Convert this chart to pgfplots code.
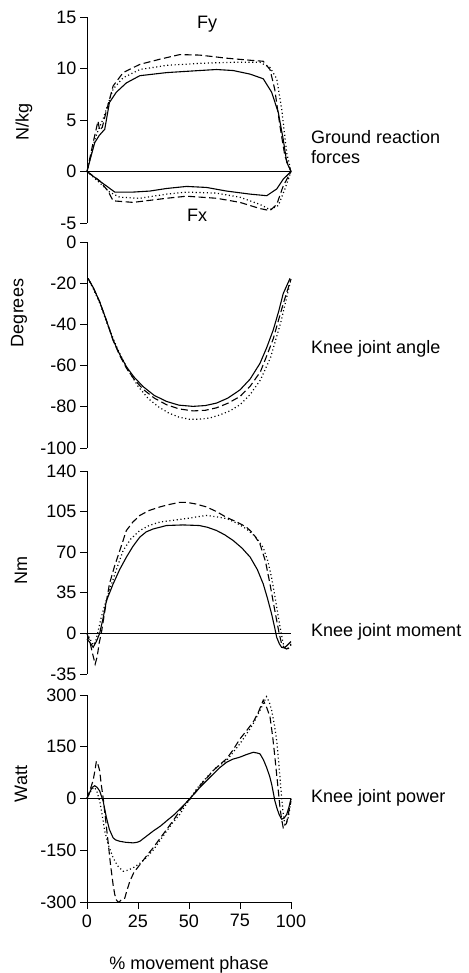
\documentclass[border=0pt]{standalone}
\usepackage{pgfplots}
\pgfplotsset{compat=1.18}
\usepackage{fontspec}
\setmainfont{Liberation Sans}
\newcommand{\lbl}{\fontsize{18}{20}\selectfont}
\pgfplotsset{
  panel/.style={
    scale only axis, width=204pt, xmin=0, xmax=100,
    axis y line*=left,
    tick align=outside, major tick length=7pt,
    tick label style={font=\lbl},
    /pgf/number format/assume math mode=true,
    axis line style={line width=0.9pt},
    every tick/.style={line width=0.9pt, black},
    clip=false,
  },
  noxaxis/.style={axis x line=none, xtick=\empty},
  s/.style={black, line width=1.1pt, solid},
  d/.style={black, line width=1.1pt, dash pattern=on 7pt off 3.5pt},
  o/.style={black, line width=1.2pt, dash pattern=on 1.1pt off 2.6pt},
  z/.style={black, line width=0.9pt},
}
\begin{document}
\begin{tikzpicture}[x=1pt,y=1pt]
\path[use as bounding box] (0,0) rectangle (468,973);
% ---------------- Panel 1: Ground reaction forces
\begin{axis}[panel, noxaxis, at={(87pt,750pt)}, anchor=south west, height=206pt,
  ymin=-5, ymax=15, ytick={-5,0,5,10,15}]
\addplot[z] coordinates {(0,0) (100,0)};
% Fy
\addplot[s] coordinates {(0,0) (2,1.5) (3.8,2.8) (6,3.5) (8.7,4.1) (11,6.7) (14.4,7.7) (19.3,8.6) (25.9,9.3) (39,9.6) (55,9.8) (63.5,9.9) (71.7,9.8) (80,9.45) (86.4,9.0) (90.5,7.7) (93.8,5.7) (96.2,3.1) (97.9,0.9) (100,0)};
\addplot[d] coordinates {(0,0) (3,2.8) (4.6,4.2) (5.4,4.9) (6.2,4.0) (7.5,4.3) (9,5.5) (12.8,8.3) (17.7,9.6) (25.9,10.4) (35.7,10.9) (45.5,11.35) (55.3,11.3) (68.4,11.0) (80,10.8) (86.4,10.7) (89.7,9.9) (92,8.0) (94.6,4.4) (97,1.5) (100,0)};
\addplot[o] coordinates {(0,0) (3.8,3.1) (5.5,4.0) (7.9,5.1) (12.8,8.0) (17.7,9.1) (25.9,9.9) (39,10.3) (55,10.5) (71.7,10.6) (84.8,10.6) (89.7,10.1) (93,9.0) (95.4,6.1) (97.9,1.8) (100,0)};
% Fx
\addplot[s] coordinates {(0,0) (4.6,-0.7) (9.5,-1.4) (13.6,-2.0) (22.6,-2.0) (30.8,-1.9) (39,-1.65) (48.8,-1.45) (58.6,-1.55) (68.4,-1.9) (80,-2.2) (88.1,-2.35) (93,-1.7) (96.2,-0.75) (100,0)};
\addplot[d] coordinates {(0,0) (6.2,-0.9) (10.3,-1.9) (12.8,-2.85) (22.6,-3.0) (39,-2.6) (48.8,-2.4) (63.5,-2.6) (75,-3.0) (84.8,-3.6) (89.7,-3.8) (93,-3.2) (96.2,-1.4) (100,0)};
\addplot[o] coordinates {(0,0) (6.2,-1.1) (11.1,-2.0) (16,-2.5) (25.9,-2.6) (39,-2.2) (48.8,-2.0) (63.5,-2.1) (75,-2.5) (84.8,-3.2) (89.7,-3.7) (93.8,-3.3) (97,-1.7) (100,0)};
\end{axis}
% ---------------- Panel 2: Knee joint angle
\begin{axis}[panel, noxaxis, at={(87pt,525pt)}, anchor=south west, height=206pt,
  ymin=-100, ymax=0, ytick={-100,-80,-60,-40,-20,0}]
\addplot[s] coordinates {(0.5,-17.7) (3,-22) (6.2,-29) (9.5,-38) (12.8,-47.6) (16,-54.5) (19.3,-60.5) (23,-65.5) (27.5,-70.2) (33,-74.5) (39,-77.4) (45,-79.2) (52,-79.8) (58,-79.4) (63.5,-78.2) (69,-75.8) (75,-71.8) (80,-66.5) (84.8,-58.9) (88,-51.5) (91.3,-42.7) (94,-33.5) (96.2,-25) (99.5,-17.7)};
\addplot[d] coordinates {(0.5,-17.7) (3,-22) (6.2,-29) (9.5,-38) (12.8,-47.8) (16,-55) (19.3,-61.2) (23,-66.5) (27.5,-71.5) (33,-75.8) (39,-79) (45,-81) (52,-82) (58,-81.7) (63.5,-80.5) (69,-78.3) (75,-75) (80,-70) (85,-63) (88,-55.5) (91.3,-47) (94,-37.5) (96.5,-29) (100,-18)};
\addplot[o] coordinates {(0.5,-17.7) (3,-22.5) (6.2,-29.5) (10,-40) (15,-52) (20,-62) (25,-70) (30,-76) (35,-80) (40,-83) (45,-85) (50,-86) (55,-86) (60,-85.5) (65,-84) (70,-82) (75,-79) (80,-74) (85,-67) (90,-56) (95,-39) (100,-18)};
\end{axis}
% ---------------- Panel 3: Knee joint moment
\begin{axis}[panel, noxaxis, at={(87pt,299pt)}, anchor=south west, height=203pt,
  ymin=-35, ymax=140, ytick={-35,0,35,70,105,140}]
\addplot[z] coordinates {(0,0) (100,0)};
\addplot[s] coordinates {(0,-5) (1.5,-8) (3,-12) (4.6,-7) (6.2,0) (8,14) (9.5,28) (12.8,42.6) (16,55) (19.3,65.7) (22.5,75) (25.9,83) (29,87.5) (32.4,90) (39,93) (47,93.5) (55,93) (59,91.5) (63.5,88.7) (67.5,85) (71.7,80) (76,73.5) (80,65.7) (83.5,55) (86.4,42.6) (88.5,30) (90.5,16.7) (92,5) (93,-3.5) (94.3,-9) (95.4,-12) (96.7,-12.5) (97.9,-10.7) (100,-7)};
\addplot[d] coordinates {(0,0) (1.5,-8) (2.8,-18) (4,-26.5) (5,-20) (6,-8) (7,0) (9,22) (11,42.6) (13.5,58) (16,71) (19.3,88.7) (22.5,96) (25.9,101.7) (30.5,106) (35.7,109) (40,111) (45.5,113) (48.8,113) (53.5,111.5) (58.6,109) (63.5,105) (68.4,100) (73.5,96) (78.2,91.6) (81.5,86) (84.8,77) (87.5,62) (89.7,42.6) (91.5,25) (93,11) (94.2,0) (95.4,-9) (96.8,-12.5) (97.9,-13.5) (99,-12) (100,-9)};
\addplot[o] coordinates {(0,0) (1.5,-5) (3,-10) (4.2,-7) (5.2,0) (7,14) (9,26) (11,37) (14,53) (17.7,71.4) (21.5,81.5) (25.9,88.7) (30.5,93) (35.7,96) (42,97.5) (48.8,99) (54,100.5) (58.6,101.7) (63.5,100.5) (68.4,99) (73.5,95) (78.2,90) (82.5,83.5) (86.4,74) (88.7,62) (90.5,48) (92.2,31) (93.8,14) (95,2) (96.2,-9) (97.5,-12) (98.7,-13) (100,-10)};
\end{axis}
% ---------------- Panel 4: Knee joint power
\begin{axis}[panel, at={(87pt,71pt)}, anchor=south west, height=207pt,
  ymin=-300, ymax=300, ytick={-300,-150,0,150,300},
  axis x line=bottom, x axis line style={-}, y axis line style={-},
  xtick={0,25,50,75,100}, xtick align=outside,
  xticklabel style={yshift=-2pt}]
\addplot[z] coordinates {(0,0) (100,0)};
\addplot[s] coordinates {(0,0) (1.5,20) (2.5,32) (3.8,37) (5,32) (6.2,22) (7.9,-7) (9.5,-55) (11,-90) (12.8,-114) (14,-120) (16,-124) (19,-127) (22.6,-128.6) (24.5,-127) (25.9,-124) (29,-110) (32.4,-94.5) (36,-80) (39,-65) (42.5,-48) (45.5,-31) (48,-16) (50.4,0) (53,16) (55.3,32) (58.5,51) (61.9,71) (65,89) (68.4,105) (71.5,114) (75,120) (78,127) (81.5,134) (83.3,132) (84.8,129.5) (86.5,112) (88,90.6) (89.5,65) (90.5,42) (91.3,18) (92.1,-7) (93.2,-30) (94.3,-48) (95.4,-60) (96.6,-57) (97.9,-46) (99,-25) (100,0)};
\addplot[d] coordinates {(0,0) (1.5,25) (3,52) (4,85) (4.6,108) (5.3,100) (6.2,81) (7,40) (7.9,3) (9,-55) (10.3,-124) (11.5,-190) (12.8,-250) (13.6,-278) (14.4,-294) (15.2,-300) (16,-299) (17,-292) (18.5,-289) (19.5,-268) (21,-240) (23,-214) (25.9,-192) (29,-168) (32.4,-143) (35.5,-118) (39,-90) (42,-66) (45.5,-36) (48,-16) (50.4,-2) (53,18) (55.3,37) (58.5,58) (61.9,81) (65,98) (68.4,115) (71.5,140) (75,173) (78,195) (81.5,222) (84,250) (86.4,285) (88,265) (89.7,237) (91,180) (92.1,120) (93.4,45) (94.6,-26) (95.4,-60) (96.2,-85) (97,-80) (97.9,-70) (99,-35) (100,-7)};
\addplot[o] coordinates {(0,0) (1.5,18) (3,30) (3.8,32) (5,18) (6.2,-7) (7.5,-50) (8.7,-94.5) (10.5,-135) (12.8,-172) (15,-195) (17.7,-211) (20,-208) (22.6,-201) (25.9,-188) (29,-172) (32.4,-150) (35.5,-124) (39,-95) (42,-70) (45.5,-46) (48,-22) (50.4,-2) (54,30) (58.6,61) (63,88) (68.4,110) (71.5,133) (75,159) (78,185) (81.5,217) (85,258) (88,295) (89.3,280) (90.5,256) (91.8,215) (93,168) (94.2,90) (95.4,3) (96.2,-45) (97,-75) (97.8,-68) (98.7,-55) (99.5,-25) (100,0)};
\end{axis}
% ---------------- Text
\node[rotate=90, font=\lbl] at (24,851) {N/kg};
\node[rotate=90, font=\lbl] at (19,660) {Degrees};
\node[rotate=90, font=\lbl] at (21,402) {Nm};
\node[rotate=90, font=\lbl] at (21,189) {Watt};
\node[font=\lbl] at (207,949) {Fy};
\node[font=\lbl] at (197,758) {Fx};
\node[font=\lbl, anchor=west, align=left, inner sep=0pt] at (311,826) {Ground reaction\\forces};
\node[font=\lbl, anchor=west, inner sep=0pt] at (311,624) {Knee joint angle};
\node[font=\lbl, anchor=west, inner sep=0pt] at (311,341) {Knee joint moment};
\node[font=\lbl, anchor=west, inner sep=0pt] at (311,175) {Knee joint power};
\node[font=\lbl] at (189,8) {\% movement phase};
\end{tikzpicture}
\end{document}
